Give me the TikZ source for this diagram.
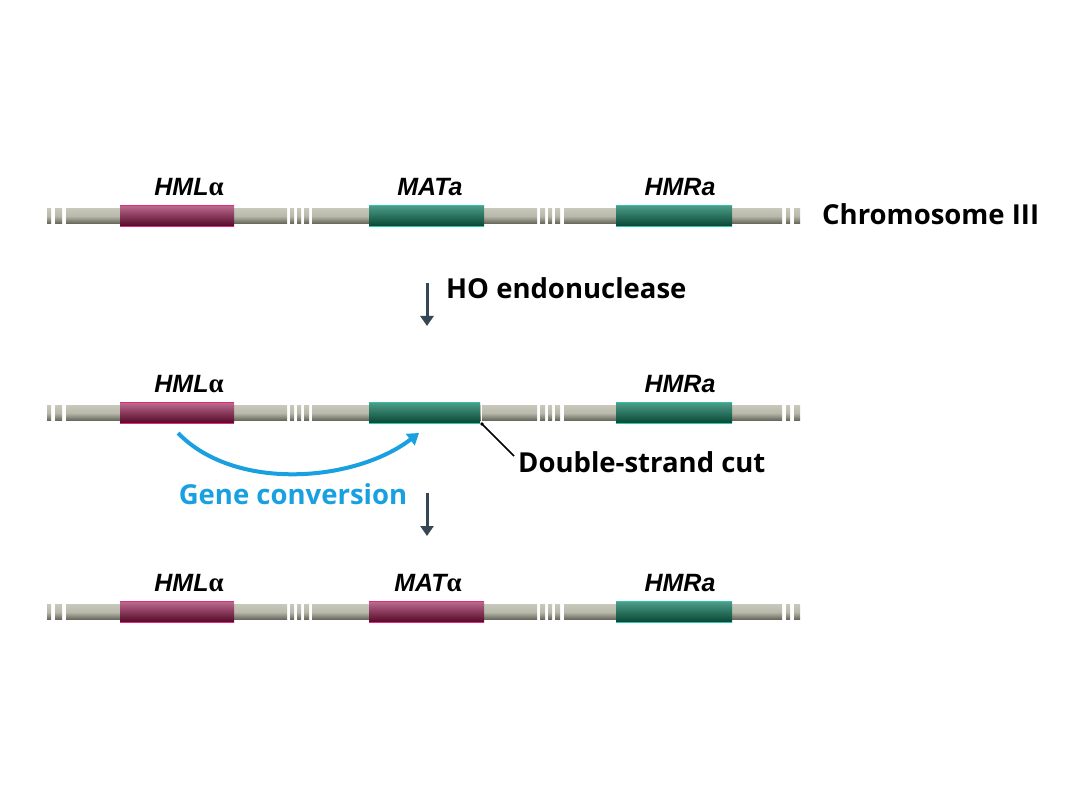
\documentclass[tikz,border=0pt]{standalone}
\usepackage{fontspec}
\setmainfont{Open Sans}
\newfontfamily\grk{Liberation Serif}
\newfontfamily\lblfont{Liberation Sans}
\usetikzlibrary{arrows.meta}
\definecolor{barT}{RGB}{200,200,186}
\definecolor{barB}{RGB}{100,100,88}
\definecolor{pinkT}{RGB}{185,105,140}
\definecolor{pinkB}{RGB}{85,8,40}
\definecolor{pinkE}{RGB}{228,40,125}
\definecolor{tealT}{RGB}{75,155,135}
\definecolor{tealB}{RGB}{8,72,52}
\definecolor{tealE}{RGB}{45,195,175}
\definecolor{arrowgray}{RGB}{55,70,85}
\definecolor{convblue}{RGB}{25,160,225}
\newcommand{\alp}{{\grk\upshape\fontsize{27}{27}\selectfont α}}
\tikzset{
  genelabel/.style={font=\lblfont\fontsize{25}{25}\selectfont\bfseries\itshape, inner sep=0pt},
  bigtext/.style={font=\fontsize{27.5}{27.5}\selectfont\bfseries, inner sep=0pt},
  steparrow/.style={draw=arrowgray, line width=3pt, -{Triangle[width=13pt,length=10pt]}},
}
\newcommand{\grey}[3]{% x1 x2 y
  \shade[top color=barT, bottom color=barB, middle color=barT!85!barB] (#1,#3-7.5) rectangle (#2,#3+7.5);}
\newcommand{\pinkblock}[3]{%
  \shade[top color=pinkT, bottom color=pinkB] (#1,#3-10) rectangle (#2,#3+10);
  \draw[pinkE, line width=1.6pt] (#1,#3-10.5) -- (#2,#3-10.5) (#1,#3+10.5) -- (#2,#3+10.5);}
\newcommand{\tealblock}[3]{%
  \shade[top color=tealT, bottom color=tealB] (#1,#3-10) rectangle (#2,#3+10);
  \draw[tealE, line width=1.6pt] (#1,#3-10.5) -- (#2,#3-10.5) (#1,#3+10.5) -- (#2,#3+10.5);}
\newcommand{\chrombar}[1]{%
  \foreach \a/\b in {47/51,55/62,66/287,290/294,297/301,304/309,312/537,540/545,548/552,555/560,564/782,786/790,794/800}{\grey{\a}{\b}{#1}}}
\begin{document}
\begin{tikzpicture}[x=1pt,y=-1pt]
\useasboundingbox[fill=white] (0,0) rectangle (1080,810);
% row 1
\chrombar{216}
\pinkblock{120}{234}{216}
\tealblock{369}{484}{216}
\tealblock{616}{732}{216}
\node[genelabel] (l1a) at (189,187) {HML\alp};
\node[genelabel] (l1b) at (430,187) {MATa};
\node[genelabel] (l1c) at (680,187) {HMRa};
\node[bigtext, anchor=west] (chrom) at (822,214) {Chromosome III};
% arrow 1
\coordinate (a1s) at (427,283);
\coordinate (a1e) at (427,326);
\draw[steparrow] (a1s) -- (a1e);
\node[bigtext, anchor=west] (ho) at (446,288) {HO endonuclease};
% row 2
\chrombar{413}
\pinkblock{120}{234}{413}
\tealblock{369}{480}{413}
\tealblock{616}{732}{413}
\draw[white, line width=1.5pt] (481.5,402) -- (481.5,424);
\node[genelabel] (l2a) at (189,384) {HML\alp};
\node[genelabel] (l2c) at (680,384) {HMRa};
\coordinate (cut) at (482,424);
\node[bigtext, anchor=west] (dsc) at (518,462) {Double-strand cut};
\draw[black, line width=1.5pt] (cut) -- (514,456);
\fill[black] (cut) circle (1.8pt);
% gene conversion
\coordinate (gcs) at (178,433);
\coordinate (gce) at (419,433);
\draw[convblue, line width=4pt, -{Triangle[width=14pt,length=11pt]}] (gcs) .. controls (235,492) and (355,482) .. (gce);
\node[bigtext, text=convblue, anchor=center] (gc) at (293,494) {Gene conversion};
% arrow 2
\coordinate (a2s) at (427,493);
\coordinate (a2e) at (427,536);
\draw[steparrow] (a2s) -- (a2e);
% row 3
\chrombar{612}
\pinkblock{120}{234}{612}
\pinkblock{369}{484}{612}
\tealblock{616}{732}{612}
\node[genelabel] (l3a) at (189,583) {HML\alp};
\node[genelabel] (l3b) at (428,583) {MAT\alp};
\node[genelabel] (l3c) at (680,583) {HMRa};
\end{tikzpicture}
\end{document}
